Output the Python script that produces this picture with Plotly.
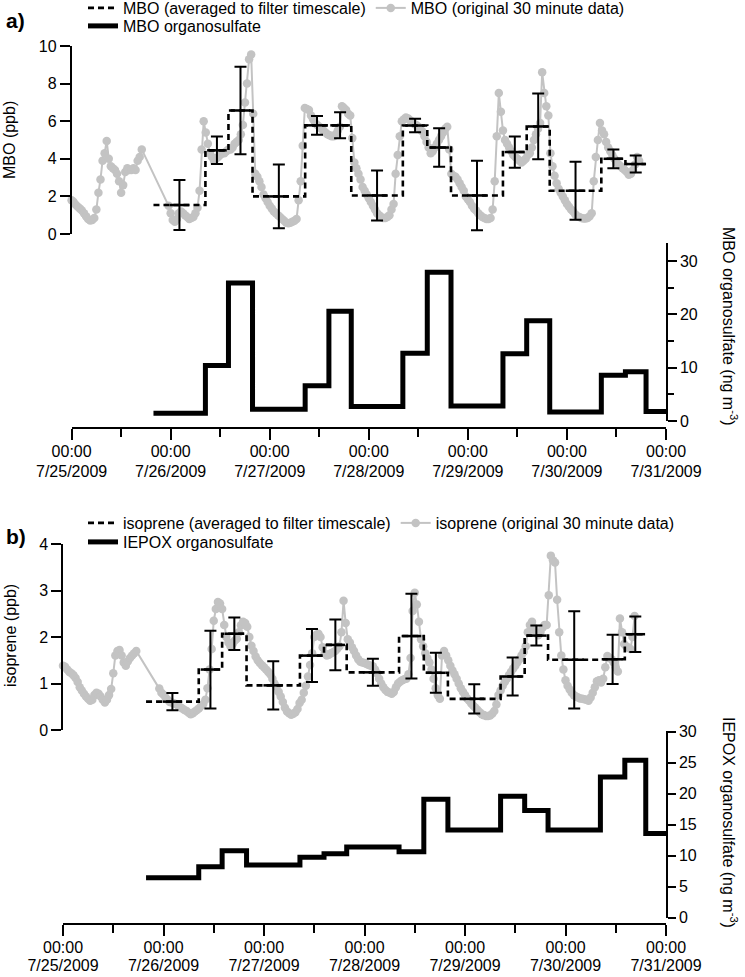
import pandas as pd
import plotly.graph_objects as go

# ---------------- data ----------------
# filter sampling edges (start of each filter; last entry = end of final filter)
FILTER_EDGES = ["2009-07-25 19:50", "2009-07-26 08:25", "2009-07-26 14:00", "2009-07-26 19:50",
                "2009-07-27 08:35", "2009-07-27 14:20", "2009-07-27 19:45", "2009-07-28 08:15",
                "2009-07-28 14:10", "2009-07-28 19:55", "2009-07-29 08:30", "2009-07-29 14:15",
                "2009-07-29 19:50", "2009-07-30 08:20", "2009-07-30 14:10", "2009-07-30 19:10",
                "2009-07-31 08:00"]

# MBO averaged to filter timescale (first 15 filters) and its error (+/-)
MBO_AVG = [1.54, 4.45, 6.57, 2.0, 5.78, 5.78, 2.05, 5.77, 4.6, 2.05, 4.36, 5.72, 2.3, 4.0, 3.72]
MBO_ERR = [1.33, 0.73, 2.33, 1.70, 0.5, 0.69, 1.33, 0.36, 1.02, 1.85, 0.83, 1.75, 1.54, 0.5, 0.45]
# MBO organosulfate (ng m-3), 16 filters
MBO_OS = [1.44, 10.4, 25.9, 2.2, 6.6, 20.6, 2.7, 12.7, 27.9, 2.8, 12.6, 18.8, 1.7, 8.6, 9.25, 1.8]

# isoprene averaged to filter timescale and error
ISO_AVG = [0.61, 1.3, 2.07, 0.96, 1.6, 1.83, 1.24, 2.02, 1.23, 0.67, 1.15, 2.03, 1.51, 1.52, 2.06]
ISO_ERR = [0.185, 0.835, 0.35, 0.52, 0.57, 0.545, 0.29, 0.91, 0.43, 0.315, 0.41, 0.215, 1.045, 0.53, 0.38]
# IEPOX organosulfate (ng m-3), 16 filters
IEPOX_OS = [6.45, 8.2, 10.8, 8.5, 9.74, 10.3, 11.4, 10.65, 19.1, 14.15, 19.6, 17.3, 14.15, 22.7, 25.4, 13.6]

# original 30-minute MBO data (two continuous blocks)
MBO_30_START1 = "2009-07-25 00:00"
MBO_30_BLOCK1 = [1.8, 1.7, 1.55, 1.45, 1.35, 1.25, 1.1, 0.95, 0.8, 0.72,
                 0.75, 0.85, 1.3, 2.2, 2.9, 3.9, 4.3, 4.95, 4.0, 3.6,
                 3.5, 3.4, 3.2, 2.8, 2.2, 2.6, 3.3, 3.5, 3.4, 3.4,
                 3.5, 3.4, 3.9, 4.1, 4.5]
MBO_30_START2 = "2009-07-25 23:30"
MBO_30_BLOCK2 = [1.5, 1.1, 0.75, 0.65, 0.8, 1.1, 1.2, 1.1, 1.0, 0.9,
                 0.8, 0.85, 0.9, 1.1, 1.4, 2.3, 4.5, 6.0, 5.4, 4.8,
                 4.3, 4.1, 3.9, 4.0, 4.1, 4.2, 4.3, 4.3, 4.4, 4.5,
                 4.5, 4.6, 4.8, 4.9, 5.0, 5.3, 5.8, 7.0, 8.0, 9.3,
                 9.55, 6.4, 3.2, 3.05, 2.8, 2.5, 2.1, 1.9, 1.7, 1.5,
                 1.35, 1.2, 1.1, 1.0, 0.9, 0.8, 0.7, 0.6, 0.57, 0.6,
                 0.65, 0.7, 0.8, 1.8, 2.8, 4.7, 6.7, 6.65, 6.6, 6.3,
                 6.1, 5.9, 5.8, 5.7, 5.6, 5.5, 5.4, 5.3, 5.25, 5.2,
                 5.2, 5.3, 5.5, 5.7, 6.8, 6.7, 6.6, 6.4, 6.3, 5.1,
                 3.8, 3.5, 3.2, 2.9, 2.5, 2.3, 2.1, 1.9, 1.7, 1.5,
                 1.3, 1.1, 1.0, 0.9, 0.85, 0.85, 0.9, 1.0, 1.3, 1.6,
                 3.2, 4.2, 5.2, 6.0, 6.1, 6.2, 6.15, 6.05, 5.95, 5.85,
                 5.8, 5.7, 5.55, 5.45, 5.2, 4.9, 4.6, 4.3, 4.4, 4.6,
                 4.8, 5.0, 5.2, 5.4, 5.6, 5.7, 4.5, 3.2, 3.1, 3.05,
                 2.9, 2.7, 2.5, 2.3, 2.0, 1.85, 1.7, 1.5, 1.35, 1.25,
                 1.1, 1.0, 0.9, 0.85, 0.8, 0.8, 0.85, 1.3, 2.8, 5.2,
                 7.5, 6.5, 5.5, 5.0, 4.8, 4.6, 4.4, 4.2, 4.1, 4.0,
                 3.9, 3.8, 3.9, 4.0, 4.2, 4.3, 4.6, 5.0, 5.3, 5.6,
                 5.9, 8.6, 7.5, 6.8, 6.3, 4.3, 3.6, 3.1, 2.7, 2.4,
                 2.2, 2.0, 1.8, 1.6, 1.45, 1.3, 1.2, 1.05, 0.95, 0.9,
                 0.85, 0.83, 0.83, 0.85, 0.95, 1.1, 2.8, 4.1, 5.0, 5.9,
                 5.5, 5.3, 4.9, 4.6, 4.4, 4.2, 4.0, 3.8, 3.7, 3.6,
                 3.5, 3.4, 3.3, 3.15, 3.2, 3.4, 3.7, 4.1, 3.9]

# original 30-minute isoprene data (two continuous blocks)
ISO_30_START1 = "2009-07-25 00:00"
ISO_30_BLOCK1 = [1.38, 1.36, 1.3, 1.25, 1.22, 1.18, 1.12, 1.03, 0.92, 0.85,
                 0.78, 0.72, 0.67, 0.63, 0.65, 0.75, 0.8, 0.78, 0.72, 0.65,
                 0.59, 0.65, 0.75, 0.88, 1.22, 1.6, 1.7, 1.72, 1.6, 1.45,
                 1.38, 1.48, 1.55, 1.6, 1.65, 1.7]
ISO_30_START2 = "2009-07-25 23:00"
ISO_30_BLOCK2 = [0.89, 0.8, 0.76, 0.7, 0.65, 0.6, 0.59, 0.57, 0.56, 0.52,
                 0.49, 0.46, 0.43, 0.41, 0.37, 0.34, 0.36, 0.4, 0.43, 0.47,
                 0.52, 0.56, 0.65, 0.9, 1.3, 1.74, 2.35, 2.6, 2.75, 2.72,
                 2.6, 2.26, 2.0, 1.88, 1.8, 1.85, 1.92, 1.96, 2.1, 2.25,
                 2.33, 2.3, 2.22, 2.0, 1.81, 1.7, 1.58, 1.5, 1.44, 1.39,
                 1.35, 1.3, 1.25, 1.2, 1.1, 1.0, 0.93, 0.82, 0.72, 0.6,
                 0.48, 0.4, 0.36, 0.33, 0.35, 0.38, 0.45, 0.58, 0.65, 0.8,
                 0.95, 1.15, 1.4, 1.65, 2.0, 2.05, 2.07, 2.0, 1.78, 1.65,
                 1.6, 1.62, 1.65, 1.67, 1.7, 1.75, 1.8, 2.1, 2.78, 2.3,
                 1.95, 1.88, 1.78, 1.7, 1.6, 1.52, 1.47, 1.45, 1.44, 1.42,
                 1.4, 1.38, 1.37, 1.3, 1.22, 1.1, 1.0, 0.92, 0.86, 0.82,
                 0.8, 0.78, 0.82, 0.92, 1.0, 1.04, 1.07, 1.09, 1.1, 1.2,
                 1.55, 2.56, 2.95, 2.7, 2.33, 1.95, 1.8, 1.65, 1.55, 1.45,
                 1.3, 1.1, 0.9, 0.75, 0.67, 1.6, 1.7, 1.6, 1.5, 1.38,
                 1.28, 1.2, 1.1, 1.0, 0.9, 0.82, 0.75, 0.68, 0.63, 0.57,
                 0.52, 0.48, 0.43, 0.38, 0.34, 0.32, 0.3, 0.3, 0.31, 0.35,
                 0.41, 0.55, 0.75, 0.85, 0.95, 1.03, 1.1, 1.18, 1.25, 1.32,
                 1.38, 1.45, 1.52, 1.6, 1.68, 1.8, 2.1, 2.26, 2.33, 2.2,
                 2.1, 2.04, 2.1, 2.2, 2.26, 2.26, 2.9, 3.75, 3.65, 3.6,
                 2.8, 2.1, 1.6, 1.3, 1.07, 0.95, 0.87, 0.8, 0.75, 0.72,
                 0.7, 0.68, 0.67, 0.66, 0.65, 0.63, 0.7, 0.8, 0.92, 1.05,
                 1.07, 1.02, 1.1, 1.35, 1.59, 1.55, 1.52, 1.45, 1.35, 1.26,
                 2.4, 2.1, 1.85, 1.8, 1.77, 1.74, 2.0, 2.45]

TICK_DATES = ["2009-07-25", "2009-07-26", "2009-07-27", "2009-07-28",
              "2009-07-29", "2009-07-30", "2009-07-31"]
TICK_TIME_LABEL = "00:00"
TICK_DATE_LABELS = ["7/25/2009", "7/26/2009", "7/27/2009", "7/28/2009",
                    "7/29/2009", "7/30/2009", "7/31/2009"]
MINOR_TICKS = ["2009-07-25 12:00", "2009-07-26 12:00", "2009-07-27 12:00",
               "2009-07-28 12:00", "2009-07-29 12:00", "2009-07-30 12:00"]

# ---------------- helpers ----------------
W, H = 745, 977
ML, MR = 63, 79
PW = W - ML - MR


def px_x(p):
    return (p - ML) / PW


def px_y(p):
    return 1 - p / H


FONT = "Arial, Liberation Sans, sans-serif"
GRAY = "#c3c3c3"
edges = pd.to_datetime(FILTER_EDGES)
mids = [edges[i] + (edges[i + 1] - edges[i]) / 2 for i in range(len(edges) - 1)]


def series_times(start, vals):
    return list(pd.date_range(start, periods=len(vals), freq="30min"))


fig = go.Figure()


def add_panel(xa, xdate, ya_top, ya_bot, legA, legB, avg, err, os_vals, t1, b1, t2, b2,
              name_avg, name_orig, name_os):
    n = len(avg)
    gx = series_times(t1, b1) + series_times(t2, b2)
    gy = b1 + b2
    # carrier (no visible marks) for the date tick-label axis
    fig.add_trace(go.Scatter(x=TICK_DATES, y=[None] * len(TICK_DATES), mode="lines",
                             showlegend=False, hoverinfo="skip", xaxis=xdate, yaxis=ya_bot))
    fig.add_trace(go.Scatter(x=gx, y=gy, mode="lines+markers", name=name_orig,
                             line=dict(color=GRAY, width=2), marker=dict(color=GRAY, size=8.5),
                             xaxis=xa, yaxis=ya_top, legend=legA, legendrank=2, cliponaxis=False))
    sx = list(edges[:n + 1])
    sy = list(avg) + [avg[-1]]
    fig.add_trace(go.Scatter(x=sx, y=sy, mode="lines", name=name_avg, line_shape="hv",
                             line=dict(color="black", width=2.6, dash="6px,4px"),
                             xaxis=xa, yaxis=ya_top, legend=legA, legendrank=1))
    fig.add_trace(go.Scatter(x=mids[:n], y=avg, mode="markers", showlegend=False,
                             marker=dict(symbol="line-ew", size=14, color="black",
                                         line=dict(color="black", width=2.5)),
                             error_y=dict(type="data", array=err, visible=True, color="black",
                                          thickness=2, width=6),
                             xaxis=xa, yaxis=ya_top, cliponaxis=False))
    ox = list(edges)
    oy = list(os_vals) + [os_vals[-1]]
    fig.add_trace(go.Scatter(x=ox, y=oy, mode="lines", name=name_os, line_shape="hv",
                             line=dict(color="black", width=5),
                             xaxis=xa, yaxis=ya_bot, legend=legB))


add_panel("x", "x3", "y", "y2", "legend", "legend2", MBO_AVG, MBO_ERR, MBO_OS,
          MBO_30_START1, MBO_30_BLOCK1, MBO_30_START2, MBO_30_BLOCK2,
          "MBO (averaged to filter timescale)", "MBO (original 30 minute data)", "MBO organosulfate")
add_panel("x2", "x4", "y3", "y4", "legend3", "legend4", ISO_AVG, ISO_ERR, IEPOX_OS,
          ISO_30_START1, ISO_30_BLOCK1, ISO_30_START2, ISO_30_BLOCK2,
          "isoprene (averaged to filter timescale)", "isoprene (original 30 minute data)", "IEPOX organosulfate")

tickfont = dict(family=FONT, size=16, color="black")


def xaxis_cfg(dom_left, pos):
    return dict(domain=[dom_left, 1], anchor="free", position=pos,
                range=[TICK_DATES[0], TICK_DATES[-1]], type="date",
                tickvals=TICK_DATES, ticktext=[TICK_TIME_LABEL] * len(TICK_DATES), tickfont=tickfont,
                showline=True, linecolor="black", linewidth=1.5,
                ticks="outside", ticklen=11, tickwidth=1.5, tickcolor="black", ticklabelstandoff=-2,
                minor=dict(tickvals=MINOR_TICKS, ticks="outside", ticklen=8, tickwidth=1.5, tickcolor="black"),
                showgrid=False, zeroline=False)


def xdate_cfg(dom_left, pos):
    return dict(domain=[dom_left, 1], anchor="free", position=pos,
                range=[TICK_DATES[0], TICK_DATES[-1]], type="date",
                tickvals=TICK_DATES, ticktext=TICK_DATE_LABELS, tickfont=tickfont,
                showline=False, ticks="", showgrid=False, zeroline=False)


def yaxis_cfg(dom, rng, side, anchor, tickvals, minor_vals=None, ticklen=10):
    d = dict(domain=dom, range=rng, side=side, anchor=anchor, tickvals=tickvals,
             tickfont=tickfont, showline=True, linecolor="black", linewidth=1.5,
             ticks="outside", ticklen=ticklen, tickwidth=1.5, tickcolor="black",
             showgrid=False, zeroline=False)
    if minor_vals:
        d["minor"] = dict(tickvals=minor_vals, ticks="outside", ticklen=6, tickwidth=1.5, tickcolor="black")
    return d


legfont = dict(family=FONT, size=16, color="black")


def leg(xp, yp):
    return dict(x=px_x(xp), y=px_y(yp), xanchor="left", yanchor="middle", orientation="h",
                font=legfont, bgcolor="rgba(0,0,0,0)", borderwidth=0)


fig.update_layout(
    width=W, height=H, margin=dict(l=ML, r=MR, t=0, b=0, autoexpand=False),
    paper_bgcolor="white", plot_bgcolor="rgba(0,0,0,0)",
    font=dict(family=FONT, size=16, color="black"),
    xaxis=xaxis_cfg(px_x(71.6), px_y(428.3)),
    xaxis3=xdate_cfg(px_x(71.6), px_y(460)),
    yaxis=yaxis_cfg([px_y(234), px_y(46)], [0, 10], "left", "x", [0, 2, 4, 6, 8, 10]),
    yaxis2=yaxis_cfg([px_y(421), px_y(243)], [0, 33.4], "right", "x", [0, 10, 20, 30], [5, 15, 25], ticklen=9),
    xaxis2=xaxis_cfg(px_x(63), px_y(924.3)),
    xaxis4=xdate_cfg(px_x(63), px_y(954)),
    yaxis3=yaxis_cfg([px_y(730), px_y(544)], [0, 4], "left", "x2", [0, 1, 2, 3, 4]),
    yaxis4=yaxis_cfg([px_y(917.7), px_y(730.5)], [0, 30.2], "right", "x2", [0, 5, 10, 15, 20, 25, 30], ticklen=8),
    showlegend=True,
    legend=leg(83, 8),
    legend2=leg(83, 26),
    legend3=leg(83, 523),
    legend4=leg(83, 542),
)

ann = [
    dict(text="<b>a)</b>", x=px_x(15.5), y=px_y(21), font=dict(family=FONT, size=21)),
    dict(text="<b>b)</b>", x=px_x(15.5), y=px_y(536), font=dict(family=FONT, size=21)),
    dict(text="MBO (ppb)", x=px_x(10), y=px_y(140), textangle=-90, font=legfont),
    dict(text="MBO organosulfate (ng m<sup>-3</sup>)", x=px_x(730), y=px_y(326), textangle=90, font=legfont),
    dict(text="isoprene (ppb)", x=px_x(10), y=px_y(636), textangle=-90, font=legfont),
    dict(text="IEPOX organosulfate (ng m<sup>-3</sup>)", x=px_x(730), y=px_y(822), textangle=90, font=legfont),
]
for a in ann:
    fig.add_annotation(xref="paper", yref="paper", showarrow=False, xanchor="center", yanchor="middle", **a)

fig.write_html("out.html", config={"displayModeBar": False},
               post_script="document.body.style.margin='0px';document.body.style.overflow='hidden';")
